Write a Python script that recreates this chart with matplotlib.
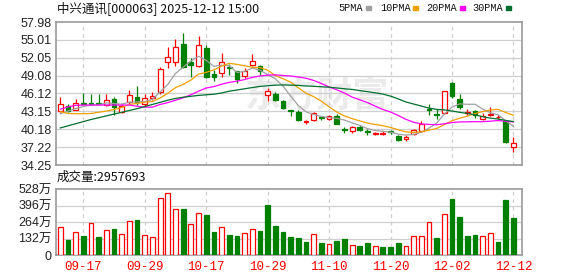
import numpy as np
import matplotlib
matplotlib.use('Agg')
import matplotlib.pyplot as plt
from matplotlib.patches import Rectangle

plt.rcParams['font.family'] = ['Liberation Sans', 'Noto Sans CJK SC']
plt.rcParams['axes.unicode_minus'] = False

# ---- data ----
dates = ['09-12', '09-15', '09-16', '09-17', '09-18', '09-19', '09-22', '09-23', '09-24', '09-25',
         '09-26', '09-29', '09-30', '10-09', '10-10', '10-13', '10-14', '10-15', '10-16', '10-17',
         '10-20', '10-21', '10-22', '10-23', '10-24', '10-27', '10-28', '10-29', '10-30', '10-31',
         '11-03', '11-04', '11-05', '11-06', '11-07', '11-10', '11-11', '11-12', '11-13', '11-14',
         '11-17', '11-18', '11-19', '11-20', '11-21', '11-24', '11-25', '11-26', '11-27', '11-28',
         '12-01', '12-02', '12-03', '12-04', '12-05', '12-08', '12-09', '12-10', '12-11', '12-12']

opens = [43.28, 44.10, 43.44, 44.60, 44.50, 44.55, 44.20, 45.20, 43.10, 44.65,
         45.60, 44.30, 45.40, 46.30, 51.30, 51.30, 54.40, 51.30, 50.65, 53.70,
         49.30, 49.46, 50.55, 49.80, 49.00, 50.80, 50.70, 45.85, 46.10, 44.90,
         43.35, 43.10, 41.40, 41.65, 42.20, 41.90, 42.45, 40.20, 39.90, 40.55,
         39.80, 39.40, 39.45, 39.90, 39.00, 38.60, 39.40, 39.85, 43.50, 42.70,
         42.85, 47.90, 45.20, 42.95, 43.15, 41.90, 42.60, 42.15, 41.60, 37.20]
highs = [45.60, 44.30, 45.20, 46.20, 46.00, 46.10, 46.00, 45.60, 44.30, 46.70,
         47.40, 46.00, 46.40, 50.50, 53.80, 55.20, 56.10, 52.00, 55.60, 54.10,
         50.00, 52.90, 51.00, 49.90, 50.40, 52.70, 50.90, 46.95, 46.40, 45.10,
         43.40, 43.30, 41.80, 43.00, 42.35, 42.50, 42.70, 40.55, 40.80, 40.90,
         40.15, 39.80, 39.90, 40.10, 39.30, 39.20, 40.30, 41.60, 44.40, 43.50,
         46.50, 48.10, 46.00, 43.55, 43.30, 42.85, 43.85, 42.55, 41.70, 38.90]
lows = [43.10, 43.00, 43.30, 44.30, 44.20, 44.30, 44.10, 42.60, 42.80, 44.40,
        44.20, 43.90, 45.00, 46.10, 50.40, 50.70, 50.40, 48.90, 50.50, 48.70,
        48.20, 48.80, 49.20, 47.80, 48.70, 50.60, 49.20, 44.90, 44.90, 43.50,
        42.40, 41.60, 41.05, 41.60, 41.80, 41.80, 41.00, 39.60, 39.60, 39.90,
        39.30, 39.20, 39.30, 39.45, 38.20, 38.25, 39.25, 39.70, 42.60, 41.90,
        42.70, 45.40, 43.50, 42.55, 42.00, 41.80, 42.35, 41.90, 37.95, 36.45]
closes = [44.32, 43.28, 44.49, 44.45, 44.40, 44.40, 45.10, 43.80, 44.10, 45.90,
          44.75, 45.30, 45.70, 50.20, 52.20, 53.80, 50.50, 50.80, 54.10, 48.90,
          48.85, 51.40, 50.40, 48.50, 49.80, 51.50, 49.80, 46.60, 45.10, 43.70,
          43.25, 41.80, 41.50, 42.90, 42.10, 42.35, 41.10, 40.10, 40.55, 40.00,
          39.70, 39.50, 39.50, 39.80, 38.35, 38.90, 40.10, 41.10, 43.40, 42.50,
          46.45, 45.75, 43.85, 43.05, 42.60, 42.35, 42.75, 42.25, 38.00, 37.95]

# volume in 万手, 1 = up day (red), 0 = down day (green)
volume = [221, 123, 185, 154, 254, 147, 200, 208, 167, 270,
          280, 159, 147, 455, 494, 368, 370, 247, 339, 324,
          185, 221, 162, 154, 175, 208, 193, 401, 231, 185,
          147, 139, 108, 167, 93, 90, 116, 131, 82, 69,
          93, 75, 62, 62, 100, 75, 152, 152, 262, 139,
          332, 447, 308, 154, 162, 152, 175, 108, 440, 296]
vol_up = [1, 0, 1, 0, 1, 0, 1, 0, 1, 1,
          0, 1, 1, 1, 1, 1, 0, 1, 1, 0,
          0, 1, 0, 0, 1, 1, 0, 0, 0, 0,
          0, 0, 0, 1, 0, 1, 0, 0, 1, 0,
          0, 1, 0, 0, 0, 1, 1, 1, 1, 0,
          1, 0, 0, 0, 0, 1, 1, 0, 0, 0]

ma5 = [42.75, 43.20, 43.60, 43.95, 44.19, 44.20, 44.57, 44.43, 44.36, 44.66,
       44.73, 44.77, 45.15, 46.37, 47.63, 49.44, 50.48, 51.50, 52.28, 51.62,
       50.63, 50.81, 50.73, 49.61, 49.79, 50.32, 50.00, 49.24, 48.56, 47.34,
       45.69, 44.09, 43.07, 42.63, 42.31, 42.13, 41.99, 41.71, 41.24, 40.82,
       40.29, 39.97, 39.85, 39.70, 39.37, 39.21, 39.33, 39.65, 40.37, 41.20,
       42.71, 43.84, 44.39, 44.32, 44.34, 43.52, 42.92, 42.60, 41.59, 40.66]
ma10 = [43.10, 42.80, 42.75, 42.75, 42.80, 43.00, 43.20, 43.45, 43.80, 44.30,
        44.47, 44.67, 44.79, 45.37, 46.15, 47.09, 47.63, 48.33, 49.33, 49.63,
        50.04, 50.65, 51.12, 50.95, 50.71, 50.48, 50.41, 49.99, 49.09, 48.57,
        48.00, 47.05, 46.16, 45.60, 44.83, 43.91, 43.04, 42.39, 41.94, 41.57,
        41.21, 40.98, 40.78, 40.47, 40.10, 39.75, 39.65, 39.75, 40.04, 40.29,
        40.96, 41.59, 42.02, 42.35, 42.77, 43.12, 43.38, 43.50, 42.96, 42.50]
ma20 = [43.50, 43.90, 44.15, 44.20, 44.20, 44.20, 44.20, 44.20, 44.20, 44.20,
        44.00, 43.85, 43.85, 44.30, 44.60, 45.00, 45.40, 45.90, 46.50, 47.03,
        47.26, 47.66, 47.96, 48.16, 48.43, 48.79, 49.02, 49.16, 49.21, 49.10,
        49.02, 48.85, 48.64, 48.28, 47.77, 47.20, 46.73, 46.19, 45.52, 45.07,
        44.61, 44.02, 43.47, 43.04, 42.47, 41.83, 41.35, 41.07, 40.99, 40.93,
        41.09, 41.29, 41.40, 41.41, 41.44, 41.44, 41.52, 41.63, 41.50, 41.40]
ma30 = [40.40, 40.75, 41.10, 41.45, 41.80, 42.10, 42.40, 42.70, 43.00, 43.30,
        43.60, 43.95, 44.30, 44.65, 45.00, 45.30, 45.50, 45.65, 45.80, 45.90,
        46.00, 46.20, 46.50, 46.70, 46.90, 47.10, 47.30, 47.40, 47.50, 47.54,
        47.50, 47.46, 47.36, 47.31, 47.23, 47.16, 47.03, 46.90, 46.79, 46.59,
        46.42, 46.23, 46.02, 45.68, 45.22, 44.71, 44.37, 44.04, 43.69, 43.48,
        43.39, 43.21, 42.99, 42.81, 42.57, 42.26, 42.03, 41.88, 41.65, 41.46]

price_ticks = [34.25, 37.22, 40.18, 43.15, 46.12, 49.08, 52.05, 55.01, 57.98]
vol_ticks = [0, 132, 264, 396, 528]
vol_tick_labels = ['0', '132万', '264万', '396万', '528万']
date_labels = ['09-17', '09-29', '10-17', '10-29', '11-10', '11-20', '12-02', '12-12']
last_volume = 2957693

ma_names = ['5PMA', '10PMA', '20PMA', '30PMA']
ma_colors = ['#a0a0a0', '#f0a000', '#ff00ff', '#006f2e']

# ---- drawing ----
RED = '#ff0000'
GREEN = '#008000'
GRID = '#cfcfcf'
FRAME = '#999999'

fig = plt.figure(figsize=(5.78, 2.76), dpi=100)
ax = fig.add_axes([56 / 578, 111 / 276, 466 / 578, 143 / 276])
axv = fig.add_axes([56 / 578, 21 / 276, 466 / 578, 66 / 276])

x = np.arange(len(dates))
o = np.array(opens)
h = np.array(highs)
l = np.array(lows)
c = np.array(closes)
up = c >= o
w = 0.62

# wicks
ax.vlines(x[up], l[up], h[up], color=RED, lw=0.9, zorder=3)
ax.vlines(x[~up], l[~up], h[~up], color=GREEN, lw=0.9, zorder=3)
# bodies
body_h = np.maximum(np.abs(c - o), 0.12)
ax.bar(x[up], body_h[up], bottom=np.minimum(o, c)[up], width=w,
       facecolor='white', edgecolor=RED, lw=0.9, zorder=4)
ax.bar(x[~up], body_h[~up], bottom=np.minimum(o, c)[~up], width=w,
       facecolor=GREEN, edgecolor=GREEN, lw=0.9, zorder=4)

for ma, col in zip([ma5, ma10, ma20, ma30], ma_colors):
    ax.plot(x, ma, color=col, lw=0.9, zorder=5)

ax.set_ylim(price_ticks[0], price_ticks[-1])
ax.set_yticks(price_ticks)
ax.set_yticklabels([f'{t:.2f}' for t in price_ticks])

# volume
vu = np.array(vol_up, dtype=bool)
vol = np.array(volume)
axv.bar(x[vu], vol[vu], width=w, facecolor='white', edgecolor=RED, lw=0.9, zorder=3)
axv.bar(x[~vu], vol[~vu], width=w, facecolor=GREEN, edgecolor=GREEN, lw=0.9, zorder=3)
axv.set_ylim(0, vol_ticks[-1])
axv.set_yticks(vol_ticks)
axv.set_yticklabels(vol_tick_labels)

label_pos = [dates.index(d) for d in date_labels]
for a in (ax, axv):
    a.set_xlim(-0.56, len(dates) + 0.12)
    a.set_xticks(label_pos)
    for yv in a.get_yticks()[1:-1]:
        a.axhline(yv, color=GRID, lw=0.9, zorder=1)
    for p in label_pos:
        a.axvline(p, color=GRID, lw=0.9, ls=(0, (3, 3)), zorder=1)
    for s in a.spines.values():
        s.set_color(FRAME)
        s.set_linewidth(1.2)
    a.tick_params(length=0, labelsize=9, colors='#222222', pad=3)

ax.set_xticklabels([])
axv.set_xticklabels(date_labels, color=RED, fontsize=9, family=['Liberation Mono'])
axv.tick_params(axis='x', pad=4, labelcolor=RED)
for t in axv.get_yticklabels():
    t.set_family(['Liberation Sans', 'Noto Sans CJK SC'])

# watermark
ax.text(0.56, 0.48, '东方财富', transform=ax.transAxes, fontsize=26, fontweight='bold',
        color='#ebebeb', ha='center', va='center', style='italic',
        family=['Noto Sans CJK SC'], zorder=0)

# header texts
fig.text(57 / 578, 1 - 8 / 276, '中兴通讯[000063] 2025-12-12 15:00', fontsize=9,
         va='center', ha='left', family=['Noto Sans CJK SC'], color='#111111')
fig.text(57 / 578, 1 - 177 / 276, f'成交量:{last_volume}', fontsize=9,
         va='center', ha='left', family=['Noto Sans CJK SC'], color='#111111')

# legend: label text followed by a small colour swatch
leg_text_x = [338, 380, 426, 472]
leg_swatch_x = [366, 413, 460, 506]
for lx, sx, name, col in zip(leg_text_x, leg_swatch_x, ma_names, ma_colors):
    fig.text(lx / 578, 1 - 8 / 276, name, fontsize=7.4, va='center', ha='left',
             family=['Liberation Mono'], color='#111111')
    fig.patches.append(Rectangle((sx / 578, (276 - 9.5) / 276), 5 / 578, 3 / 276,
                                 transform=fig.transFigure, color=col))

fig.savefig('out.png', dpi=100)
